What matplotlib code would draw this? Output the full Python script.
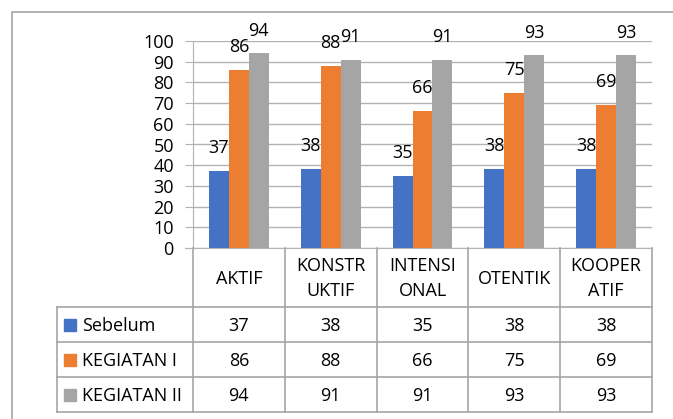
#!/usr/bin/env python3
"""Clustered bar chart with an Excel-style data table underneath."""
import matplotlib

matplotlib.use("Agg")
import matplotlib.pyplot as plt
from matplotlib.lines import Line2D
from matplotlib.patches import Rectangle

categories = ["AKTIF", "KONSTR\nUKTIF", "INTENSI\nONAL", "OTENTIK", "KOOPER\nATIF"]
series_names = ["Sebelum", "KEGIATAN I", "KEGIATAN II"]
sebelum = [37, 38, 35, 38, 38]
kegiatan_1 = [86, 88, 66, 75, 69]
kegiatan_2 = [94, 91, 91, 93, 93]
yticks = list(range(0, 101, 10))

COLORS = ["#4472C4", "#ED7D31", "#A5A5A5"]
GRID = "#b3b3b3"
LINE = "#a6a6a6"
FONT = "Open Sans"
FS = 13

W, H = 673, 419
plt.rcParams["font.family"] = [FONT, "DejaVu Sans"]


def fx(px):
    return px / W


def fy(py):
    return 1 - py / H


fig = plt.figure(figsize=(W / 100, H / 100), dpi=100)

# outer chart frame (runs off the right and bottom edges like the reference)
fig.patches.append(Rectangle((fx(12), fy(430)), fx(700) - fx(12), fy(12) - fy(430),
                             transform=fig.transFigure, fill=False, edgecolor=LINE, lw=1.2))

ax_l, ax_r, ax_t, ax_b = 193, 652, 41, 248
ax = fig.add_axes([fx(ax_l), fy(ax_b), fx(ax_r) - fx(ax_l), fy(ax_t) - fy(ax_b)])

values = [sebelum, kegiatan_1, kegiatan_2]
n = len(categories)
bw = 0.217
for i, (vals, color) in enumerate(zip(values, COLORS)):
    xs = [c + (i - 1) * bw for c in range(n)]
    ax.bar(xs, vals, width=bw, color=color, zorder=3)
    for x, v in zip(xs, vals):
        ax.annotate(str(v), (x, v), xytext=(0, 16.5), textcoords="offset points",
                    ha="center", va="center", fontsize=FS, color="#000000",
                    annotation_clip=False)

ax.set_xlim(-0.5, n - 0.5)
ax.set_ylim(0, 100)
ax.set_yticks(yticks)
ax.set_yticklabels([str(t) for t in yticks], fontsize=FS)
ax.set_xticks([])
ax.yaxis.grid(True, color=GRID, lw=1.0, zorder=0)
ax.tick_params(axis="y", length=5.8, color=GRID, pad=8)
for side in ["top", "right"]:
    ax.spines[side].set_visible(False)
ax.spines["left"].set_color(GRID)
ax.spines["bottom"].set_color(GRID)
ax.spines["bottom"].set_bounds(-0.5 - 8 / 91.8, n - 0.5)

# data table below the plot
col_w = (ax_r - ax_l) / n
tab_l, tab_t, tab_b = 57, 248, 412
tab = fig.add_axes([fx(tab_l), fy(tab_b), fx(ax_r) - fx(tab_l), fy(tab_t) - fy(tab_b)])
legend_w = (ax_l - tab_l) / col_w
tab.set_xlim(-0.5 - legend_w, n - 0.5)
rows = [0, 59, 94, 129, 164]
tab.set_ylim(rows[-1], 0)
tab.axis("off")

lk = dict(color=LINE, lw=1.2, clip_on=False)
# header vertical separators
for c in range(n + 1):
    tab.add_line(Line2D([c - 0.5, c - 0.5], [0, rows[-1]], **lk))
tab.add_line(Line2D([-0.5 - legend_w] * 2, [rows[1], rows[-1]], **lk))
for r in rows[1:]:
    tab.add_line(Line2D([-0.5 - legend_w, n - 0.5], [r, r], **lk))

for c, name in enumerate(categories):
    tab.text(c, (rows[0] + rows[1]) / 2 + 1, name, ha="center", va="center",
             fontsize=FS, linespacing=1.55)

for i, (name, vals, color) in enumerate(zip(series_names, values, COLORS)):
    yc = (rows[i + 1] + rows[i + 2]) / 2
    x0 = -0.5 - legend_w
    tab.add_patch(Rectangle((x0 + 7 / col_w, yc - 6), 12 / col_w, 12,
                            color=color, clip_on=False))
    tab.text(x0 + 25 / col_w, yc + 1, name, ha="left", va="center", fontsize=FS)
    for c, v in enumerate(vals):
        tab.text(c, yc + 1, str(v), ha="center", va="center", fontsize=FS)

fig.savefig("out.png", dpi=100)
